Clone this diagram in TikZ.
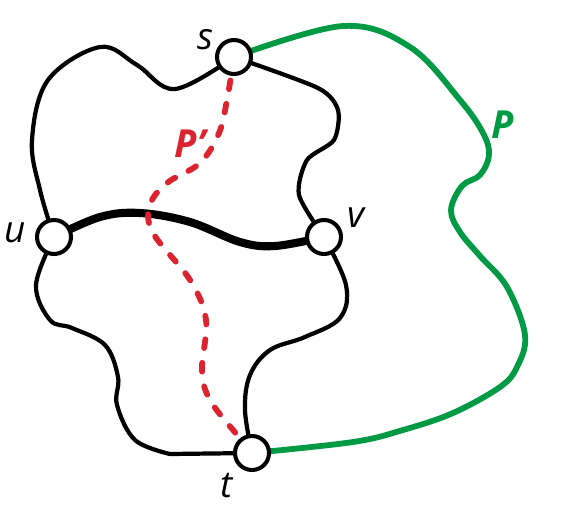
\documentclass[tikz,border=0pt]{standalone}
\usepackage{fontspec}
\setmainfont{Open Sans}
\usetikzlibrary{backgrounds}
\definecolor{pathgreen}{HTML}{009A44}
\definecolor{pathred}{HTML}{DC2430}
\tikzset{
  vertex/.style={circle,draw,fill=white,line width=2.3pt,minimum size=0.68cm,inner sep=0pt},
  edge/.style={line width=2.4pt,line cap=round},
  heavyedge/.style={line width=4.6pt},
  greenpath/.style={line width=3.3pt,pathgreen,line cap=round},
  redpath/.style={line width=3.3pt,pathred,line cap=round,dash pattern=on 5pt off 8.5pt},
  vlabel/.style={font=\fontsize{21}{25}\selectfont\itshape},
  plabel/.style={font=\fontsize{22}{26}\selectfont\bfseries\itshape},
}
\begin{document}
\begin{tikzpicture}[x=0.02cm,y=-0.02cm]
  \useasboundingbox (0,0) rectangle (562,518);

  %vertices:
  \node[vertex] (s) at (234,57) {};
  \node[vertex] (u) at (54,237) {};
  \node[vertex] (v) at (324,237) {};
  \node[vertex] (t) at (252,453) {};

  %labels:
  \node[vlabel] (sl) at (205,40) {s};
  \node[vlabel] (ul) at (15,233) {u};
  \node[vlabel] (vl) at (356,218) {v};
  \node[vlabel] (tl) at (227,486) {t};
  \node[plabel,pathgreen] (pl) at (503,125) {P};
  \node[plabel,pathred] (ppl) at (190,144) {P'};

  \begin{pgfonlayer}{background}
    %graph edges:
    \draw[edge] plot[smooth,tension=0.6] coordinates {(s) (175,89) (137,65) (100,47) (48,80) (32,140) (40,190) (u)};
    \draw[edge] plot[smooth,tension=0.45] coordinates {(s) (318,88) (338,110) (334,140) (307,160) (299,195) (v)};
    \draw[edge,heavyedge] plot[smooth,tension=0.6] coordinates {(u) (100,217) (140,213) (190,222) (240,242) (275,246) (v)};
    \draw[edge] plot[smooth,tension=0.6] coordinates {(u) (36,285) (50,320) (72,328) (105,345) (118,377) (117,405) (135,440) (170,454)} -- (t);
    \draw[edge] plot[smooth,tension=0.6] coordinates {(v) (346,285) (340,318) (305,337) (270,350) (250,375) (245,410) (t)};

    %path P:
    \draw[greenpath] plot[smooth,tension=0.6] coordinates {(s) (343,26) (410,47) (460,100) (483,133) (489,155) (480,175) (462,186) (451,210) (460,232) (480,256) (507,287) (525,335) (517,367) (500,387) (453,413) (403,430) (353,442) (t)};

    %path P':
    \draw[redpath] plot[smooth,tension=0.6] coordinates {(s) (227,100) (219,133) (200,163) (167,183) (150,205) (153,233) (190,280) (206,320) (202,370) (210,400) (238,436) (t)};
  \end{pgfonlayer}
\end{tikzpicture}
\end{document}
